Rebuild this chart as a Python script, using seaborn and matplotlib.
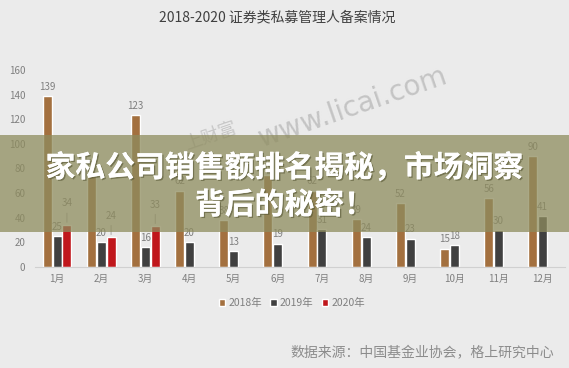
import numpy as np
import pandas as pd
import matplotlib
matplotlib.use("Agg")
import matplotlib.pyplot as plt
import matplotlib.patheffects as pe
from matplotlib.patches import Rectangle
import seaborn as sns

months = ["1月", "2月", "3月", "4月", "5月", "6月", "7月", "8月", "9月", "10月", "11月", "12月"]
years = ["2018年", "2019年", "2020年"]
v2018 = [139, 76, 123, 62, 38, 75, 62, 39, 52, 15, 56, 90]
v2019 = [25, 20, 16, 20, 13, 19, 31, 24, 23, 18, 30, 41]
v2020 = [34, 24, 33, np.nan, np.nan, np.nan, np.nan, np.nan, np.nan, np.nan, np.nan, np.nan]
yticks = [0, 20, 40, 60, 80, 100, 120, 140, 160]

title = "2018-2020 证券类私募管理人备案情况"
source = "数据来源：中国基金业协会，格上研究中心"
banner1 = "家私公司销售额排名揭秘，市场洞察"
banner2 = "背后的秘密！"

colors = ["#A3703F", "#404040", "#C0171C"]
bg = "#EBEBEB"

rows = []
for yr, vals in zip(years, [v2018, v2019, v2020]):
    for m, v in zip(months, vals):
        rows.append({"month": m, "year": yr, "value": v})
df = pd.DataFrame(rows)

sns.set_theme(style="white")
plt.rcParams["font.family"] = ["Noto Sans CJK SC", "DejaVu Sans"]

fig = plt.figure(figsize=(5.69, 3.68), dpi=100, facecolor=bg)
ax = fig.add_axes([0.0615, 0.2745, 0.931, 0.5355])
ax.set_facecolor(bg)

sns.barplot(data=df, x="month", y="value", hue="year", hue_order=years,
            order=months, palette=colors, saturation=1, width=0.67, gap=0.1,
            dodge=True, ax=ax, legend=False)

ax.set_ylim(0, 160)
ax.set_yticks(yticks)
ax.set_xlabel("")
ax.set_ylabel("")
ax.tick_params(axis="both", length=0, labelsize=7, colors="#7F7F7F", pad=5)
ax.tick_params(axis="y", pad=7)
for s in ["top", "right", "left"]:
    ax.spines[s].set_visible(False)
ax.spines["bottom"].set_color("#D0D0D0")
ax.spines["bottom"].set_linewidth(0.8)
ax.set_xlim(-0.5, 11.5)

lab_col = "#7F7F7F"
for i, cont in enumerate(ax.containers):
    for p in cont.patches:
        h = p.get_height()
        if h is None or np.isnan(h) or h == 0:
            continue
        x = p.get_x() + p.get_width() / 2
        if i == 2:
            ax.annotate(f"{h:.0f}", xy=(x, h), xytext=(0, 12), textcoords="offset points",
                        ha="center", va="bottom", fontsize=7, color=lab_col,
                        arrowprops=dict(arrowstyle="-", color="#A0A0A0", lw=0.6,
                                        shrinkA=1, shrinkB=2))
        else:
            ax.annotate(f"{h:.0f}", xy=(x, h), xytext=(0, 3), textcoords="offset points",
                        ha="center", va="bottom", fontsize=7, color=lab_col)

handles = [Rectangle((0, 0), 1, 1, facecolor=c) for c in colors]
fig.legend(handles, years, loc="center", bbox_to_anchor=(0.513, 0.177), ncol=3,
           frameon=False, fontsize=7.5, handlelength=0.6, handleheight=0.6,
           handletextpad=0.3, columnspacing=0.8, labelcolor="#7F7F7F")

fig.text(0.488, 0.953, title, ha="center", va="center", fontsize=10, color="#404040")
fig.text(0.742, 0.04, source, ha="center", va="center", fontsize=10, color="#8C8C8C")

# watermark
fig.text(0.62, 0.71, "www.licai.com", ha="center", va="center", fontsize=20,
         color="#C4C4C4", rotation=19, family="DejaVu Sans", zorder=4)
fig.text(0.37, 0.63, "上财富", ha="center", va="center", fontsize=13,
         color="#C8C8C8", rotation=19, zorder=4)

# banner overlay
fig.patches.append(Rectangle((0, 0.37), 1, 0.264, transform=fig.transFigure,
                             facecolor="#8E8C5E", alpha=0.75, edgecolor="none", zorder=5))
shadow = [pe.withSimplePatchShadow(offset=(1, -1), shadow_rgbFace="#555533", alpha=0.6),
          pe.Normal()]
fig.text(0.5, 0.544, banner1, ha="center", va="center", fontsize=21.5, fontweight="bold",
         color="white", zorder=6, path_effects=shadow)
fig.text(0.5, 0.443, banner2, ha="center", va="center", fontsize=21.5, fontweight="bold",
         color="white", zorder=6, path_effects=shadow)

fig.savefig("out.png", dpi=100, facecolor=bg)
